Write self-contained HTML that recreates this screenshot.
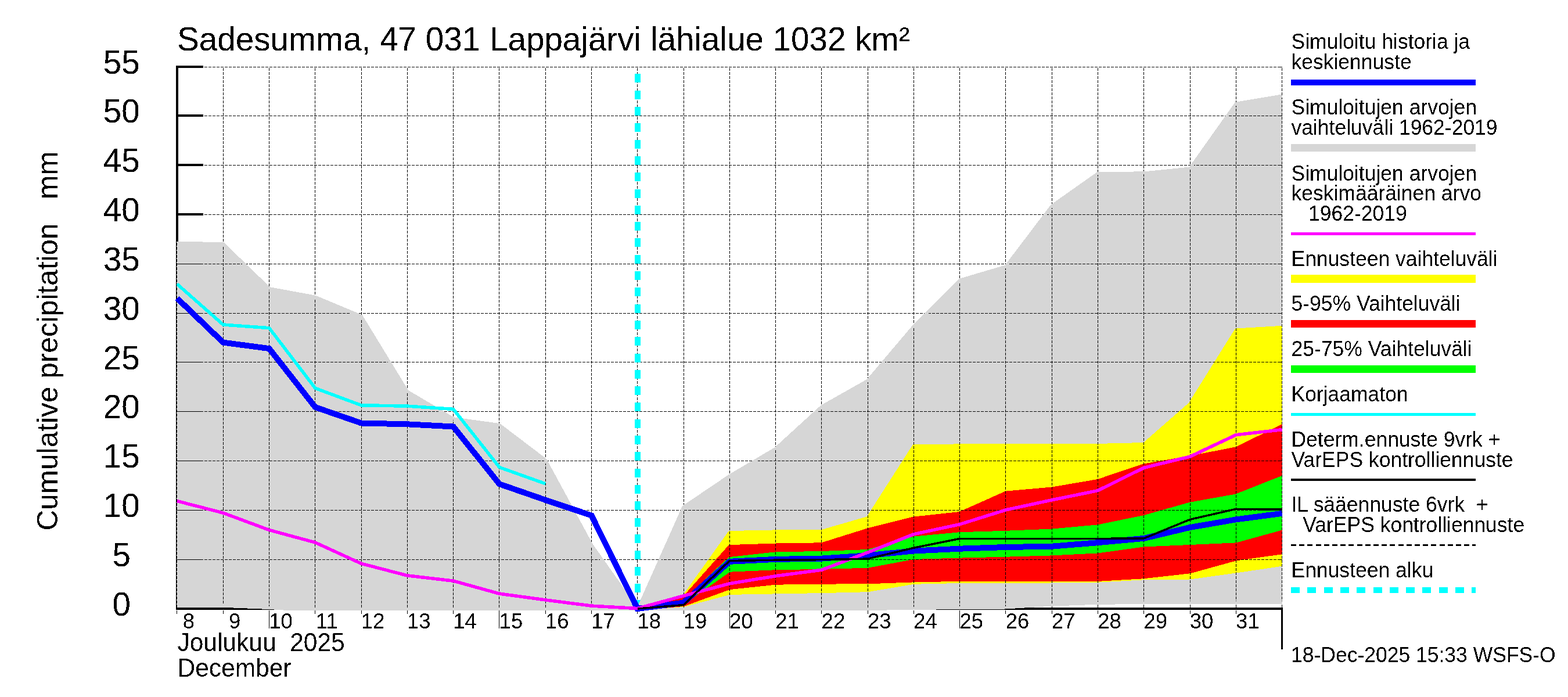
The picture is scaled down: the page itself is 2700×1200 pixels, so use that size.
<!DOCTYPE html>
<html lang="fi"><head><meta charset="utf-8"><title>Sadesumma, 47 031 Lappajärvi lähialue</title>
<style>
html,body{margin:0;padding:0;background:#fff;}
body{width:2700px;height:1200px;overflow:hidden;}
svg{display:block;position:absolute;left:0;top:0;}
text{font-family:"Liberation Sans",sans-serif;fill:#000;}
.t56{font-size:56.6px}.t42{font-size:42.5px}.t35{font-size:36.5px}.tl{font-size:35.5px}
</style></head><body>
<svg width="2700" height="1200" viewBox="0 0 2700 1200">
<defs><filter id="bin" x="0" y="0" width="2700" height="1200" filterUnits="userSpaceOnUse" color-interpolation-filters="sRGB"><feComponentTransfer><feFuncA type="discrete" tableValues="0 1"/></feComponentTransfer></filter></defs>
<rect width="2700" height="1200" fill="#fff"/>
<g shape-rendering="crispEdges">
<rect x="303" y="113" width="4" height="937" fill="#000"/>
<rect x="303" y="1046" width="1906" height="4" fill="#000"/>
<rect x="303" y="961" width="47" height="4" fill="#000"/>
<rect x="303" y="876" width="47" height="4" fill="#000"/>
<rect x="303" y="791" width="47" height="4" fill="#000"/>
<rect x="303" y="706" width="47" height="4" fill="#000"/>
<rect x="303" y="621" width="47" height="4" fill="#000"/>
<rect x="303" y="537" width="47" height="4" fill="#000"/>
<rect x="303" y="452" width="47" height="4" fill="#000"/>
<rect x="303" y="367" width="47" height="4" fill="#000"/>
<rect x="303" y="282" width="47" height="4" fill="#000"/>
<rect x="303" y="197" width="47" height="4" fill="#000"/>
<rect x="303" y="113" width="47" height="4" fill="#000"/>
<rect x="2206" y="1046" width="3" height="72" fill="#000"/>
</g>
<clipPath id="plotclip"><rect x="304" y="100" width="1904" height="951"/></clipPath>
<g shape-rendering="crispEdges" clip-path="url(#plotclip)">
<polygon fill="#d6d6d6" stroke="#d6d6d6" stroke-width="5.0" stroke-linejoin="miter" points="304.9,418.4 384.2,419.5 463.5,496.5 542.8,511.1 622.1,544.2 701.3,673.8 780.6,720.7 859.9,731.5 939.2,791.8 1018.5,938.0 1097.8,1050.3 1177.0,872.8 1256.3,819.2 1335.6,772.3 1414.9,699.9 1494.2,655.1 1573.4,561.7 1652.7,482.2 1732.0,458.8 1811.3,354.3 1890.5,298.4 1969.8,297.9 2049.1,290.0 2128.4,178.1 2207.7,165.0 2207.7,1037.2 2128.4,1037.5 2049.1,1037.5 1969.8,1037.7 1890.5,1038.2 1811.3,1041.1 1732.0,1046.0 1652.7,1046.7 1573.4,1047.3 1494.2,1048.5 1414.9,1048.5 1335.6,1048.5 1256.3,1048.5 1177.0,1048.5 1097.8,1050.3 1018.5,1048.5 939.2,1048.5 859.9,1048.5 780.6,1048.5 701.3,1048.5 622.1,1048.5 542.8,1051.3 463.5,1046.5 384.2,1043.3 304.9,1043.1"/>
<polygon fill="#ffff00" stroke="#ffff00" stroke-width="5.0" stroke-linejoin="miter" points="1097.8,1048.5 1177.0,1027.3 1256.3,916.5 1335.6,914.9 1414.9,914.5 1494.2,891.5 1573.4,767.7 1652.7,766.9 1732.0,766.9 1811.3,766.9 1890.5,766.4 1969.8,764.5 2049.1,695.1 2128.4,568.0 2207.7,563.3 2207.7,972.2 2128.4,984.0 2049.1,995.0 1969.8,995.8 1890.5,1000.2 1811.3,1001.0 1732.0,1001.5 1652.7,1001.5 1573.4,1003.3 1494.2,1016.7 1414.9,1018.6 1335.6,1019.9 1256.3,1021.4 1177.0,1042.5 1097.8,1048.5"/>
<polygon fill="#ff0000" stroke="#ff0000" stroke-width="5.0" stroke-linejoin="miter" points="1097.8,1048.5 1177.0,1029.8 1256.3,940.6 1335.6,938.0 1414.9,936.8 1494.2,911.9 1573.4,892.1 1652.7,883.5 1732.0,848.1 1811.3,841.0 1890.5,827.5 1969.8,800.9 2049.1,787.3 2128.4,771.9 2207.7,733.2 2207.7,951.7 2128.4,962.9 2049.1,984.8 1969.8,993.7 1890.5,998.4 1811.3,998.4 1732.0,998.4 1652.7,998.4 1573.4,999.9 1494.2,1002.8 1414.9,1003.1 1335.6,1004.2 1256.3,1012.6 1177.0,1041.5 1097.8,1048.5"/>
<polygon fill="#00ff00" stroke="#00ff00" stroke-width="5.0" stroke-linejoin="miter" points="1097.8,1048.5 1177.0,1035.4 1256.3,961.5 1335.6,952.8 1414.9,951.5 1494.2,948.5 1573.4,926.1 1652.7,918.7 1732.0,916.3 1811.3,913.1 1890.5,905.9 1969.8,889.6 2049.1,867.2 2128.4,853.0 2207.7,821.6 2207.7,910.0 2128.4,931.9 2049.1,935.5 1969.8,938.9 1890.5,949.9 1811.3,953.9 1732.0,956.2 1652.7,958.1 1573.4,960.4 1494.2,975.3 1414.9,977.4 1335.6,978.7 1256.3,982.2 1177.0,1037.5 1097.8,1048.5"/>
</g>
<g shape-rendering="crispEdges" stroke="#000" stroke-width="1" fill="none">
<line x1="304" y1="963.5" x2="350" y2="963.5"/>
<line x1="350" y1="963.5" x2="2208" y2="963.5" stroke-dasharray="5 2" stroke-dashoffset="5"/>
<line x1="2201" y1="963.5" x2="2207" y2="963.5"/>
<line x1="304" y1="878.5" x2="350" y2="878.5"/>
<line x1="350" y1="878.5" x2="2208" y2="878.5" stroke-dasharray="5 2" stroke-dashoffset="5"/>
<line x1="2201" y1="878.5" x2="2207" y2="878.5"/>
<line x1="304" y1="793.5" x2="350" y2="793.5"/>
<line x1="350" y1="793.5" x2="2208" y2="793.5" stroke-dasharray="5 2" stroke-dashoffset="5"/>
<line x1="2201" y1="793.5" x2="2207" y2="793.5"/>
<line x1="304" y1="708.5" x2="350" y2="708.5"/>
<line x1="350" y1="708.5" x2="2208" y2="708.5" stroke-dasharray="5 2" stroke-dashoffset="5"/>
<line x1="2201" y1="708.5" x2="2207" y2="708.5"/>
<line x1="304" y1="623.5" x2="350" y2="623.5"/>
<line x1="350" y1="623.5" x2="2208" y2="623.5" stroke-dasharray="5 2" stroke-dashoffset="5"/>
<line x1="2201" y1="623.5" x2="2207" y2="623.5"/>
<line x1="304" y1="539.5" x2="350" y2="539.5"/>
<line x1="350" y1="539.5" x2="2208" y2="539.5" stroke-dasharray="5 2" stroke-dashoffset="5"/>
<line x1="2201" y1="539.5" x2="2207" y2="539.5"/>
<line x1="304" y1="454.5" x2="350" y2="454.5"/>
<line x1="350" y1="454.5" x2="2208" y2="454.5" stroke-dasharray="5 2" stroke-dashoffset="5"/>
<line x1="2201" y1="454.5" x2="2207" y2="454.5"/>
<line x1="304" y1="369.5" x2="350" y2="369.5"/>
<line x1="350" y1="369.5" x2="2208" y2="369.5" stroke-dasharray="5 2" stroke-dashoffset="5"/>
<line x1="2201" y1="369.5" x2="2207" y2="369.5"/>
<line x1="304" y1="284.5" x2="350" y2="284.5"/>
<line x1="350" y1="284.5" x2="2208" y2="284.5" stroke-dasharray="5 2" stroke-dashoffset="5"/>
<line x1="2201" y1="284.5" x2="2207" y2="284.5"/>
<line x1="304" y1="199.5" x2="350" y2="199.5"/>
<line x1="350" y1="199.5" x2="2208" y2="199.5" stroke-dasharray="5 2" stroke-dashoffset="5"/>
<line x1="2201" y1="199.5" x2="2207" y2="199.5"/>
<line x1="304" y1="115.5" x2="350" y2="115.5"/>
<line x1="350" y1="115.5" x2="2208" y2="115.5" stroke-dasharray="5 2" stroke-dashoffset="5"/>
<line x1="2201" y1="115.5" x2="2207" y2="115.5"/>
<line x1="304.5" y1="115" x2="304.5" y2="1046" stroke-dasharray="5 2" stroke-dashoffset="5"/>
<line x1="384.5" y1="115" x2="384.5" y2="1046" stroke-dasharray="5 2" stroke-dashoffset="5"/>
<line x1="463.5" y1="115" x2="463.5" y2="1046" stroke-dasharray="5 2" stroke-dashoffset="5"/>
<line x1="542.5" y1="115" x2="542.5" y2="1046" stroke-dasharray="5 2" stroke-dashoffset="5"/>
<line x1="622.5" y1="115" x2="622.5" y2="1046" stroke-dasharray="5 2" stroke-dashoffset="5"/>
<line x1="701.5" y1="115" x2="701.5" y2="1046" stroke-dasharray="5 2" stroke-dashoffset="5"/>
<line x1="780.5" y1="115" x2="780.5" y2="1046" stroke-dasharray="5 2" stroke-dashoffset="5"/>
<line x1="859.5" y1="115" x2="859.5" y2="1046" stroke-dasharray="5 2" stroke-dashoffset="5"/>
<line x1="939.5" y1="115" x2="939.5" y2="1046" stroke-dasharray="5 2" stroke-dashoffset="5"/>
<line x1="1018.5" y1="115" x2="1018.5" y2="1046" stroke-dasharray="5 2" stroke-dashoffset="5"/>
<line x1="1097.5" y1="115" x2="1097.5" y2="1046" stroke-dasharray="5 2" stroke-dashoffset="5"/>
<line x1="1177.5" y1="115" x2="1177.5" y2="1046" stroke-dasharray="5 2" stroke-dashoffset="5"/>
<line x1="1256.5" y1="115" x2="1256.5" y2="1046" stroke-dasharray="5 2" stroke-dashoffset="5"/>
<line x1="1335.5" y1="115" x2="1335.5" y2="1046" stroke-dasharray="5 2" stroke-dashoffset="5"/>
<line x1="1414.5" y1="115" x2="1414.5" y2="1046" stroke-dasharray="5 2" stroke-dashoffset="5"/>
<line x1="1494.5" y1="115" x2="1494.5" y2="1046" stroke-dasharray="5 2" stroke-dashoffset="5"/>
<line x1="1573.5" y1="115" x2="1573.5" y2="1046" stroke-dasharray="5 2" stroke-dashoffset="5"/>
<line x1="1652.5" y1="115" x2="1652.5" y2="1046" stroke-dasharray="5 2" stroke-dashoffset="5"/>
<line x1="1731.5" y1="115" x2="1731.5" y2="1046" stroke-dasharray="5 2" stroke-dashoffset="5"/>
<line x1="1811.5" y1="115" x2="1811.5" y2="1046" stroke-dasharray="5 2" stroke-dashoffset="5"/>
<line x1="1890.5" y1="115" x2="1890.5" y2="1046" stroke-dasharray="5 2" stroke-dashoffset="5"/>
<line x1="1969.5" y1="115" x2="1969.5" y2="1046" stroke-dasharray="5 2" stroke-dashoffset="5"/>
<line x1="2049.5" y1="115" x2="2049.5" y2="1046" stroke-dasharray="5 2" stroke-dashoffset="5"/>
<line x1="2128.5" y1="115" x2="2128.5" y2="1046" stroke-dasharray="5 2" stroke-dashoffset="5"/>
<line x1="2207.5" y1="115" x2="2207.5" y2="1046" stroke-dasharray="5 2" stroke-dashoffset="5"/>
<line x1="304.5" y1="1051" x2="304.5" y2="1057.0"/>
<line x1="384.5" y1="1051" x2="384.5" y2="1057.0"/>
<line x1="463.5" y1="1051" x2="463.5" y2="1081.5"/>
<line x1="542.5" y1="1051" x2="542.5" y2="1057.0"/>
<line x1="622.5" y1="1051" x2="622.5" y2="1057.0"/>
<line x1="701.5" y1="1051" x2="701.5" y2="1057.0"/>
<line x1="780.5" y1="1051" x2="780.5" y2="1057.0"/>
<line x1="859.5" y1="1051" x2="859.5" y2="1081.5"/>
<line x1="939.5" y1="1051" x2="939.5" y2="1057.0"/>
<line x1="1018.5" y1="1051" x2="1018.5" y2="1057.0"/>
<line x1="1097.5" y1="1051" x2="1097.5" y2="1057.0"/>
<line x1="1177.5" y1="1051" x2="1177.5" y2="1057.0"/>
<line x1="1256.5" y1="1051" x2="1256.5" y2="1081.5"/>
<line x1="1335.5" y1="1051" x2="1335.5" y2="1057.0"/>
<line x1="1414.5" y1="1051" x2="1414.5" y2="1057.0"/>
<line x1="1494.5" y1="1051" x2="1494.5" y2="1057.0"/>
<line x1="1573.5" y1="1051" x2="1573.5" y2="1057.0"/>
<line x1="1652.5" y1="1051" x2="1652.5" y2="1081.5"/>
<line x1="1731.5" y1="1051" x2="1731.5" y2="1057.0"/>
<line x1="1811.5" y1="1051" x2="1811.5" y2="1057.0"/>
<line x1="1890.5" y1="1051" x2="1890.5" y2="1057.0"/>
<line x1="1969.5" y1="1051" x2="1969.5" y2="1057.0"/>
<line x1="2049.5" y1="1051" x2="2049.5" y2="1057.0"/>
<line x1="2128.5" y1="1051" x2="2128.5" y2="1057.0"/>
</g>
<g shape-rendering="crispEdges">
<line x1="1098" y1="1048" x2="1098" y2="115" stroke="#00ffff" stroke-width="10" stroke-dasharray="15 13.3"/>
</g>
<g shape-rendering="crispEdges" clip-path="url(#plotclip)">
<polyline fill="none" stroke="#d6d6d6" stroke-width="5.0" stroke-linejoin="miter"  points="304.9,418.4 384.2,419.5 463.5,496.5 542.8,511.1 622.1,544.2 701.3,673.8 780.6,720.7 859.9,731.5 939.2,791.8 1018.5,938.0 1097.8,1050.3 1177.0,872.8 1256.3,819.2 1335.6,772.3 1414.9,699.9 1494.2,655.1 1573.4,561.7 1652.7,482.2 1732.0,458.8 1811.3,354.3 1890.5,298.4 1969.8,297.9 2049.1,290.0 2128.4,178.1 2207.7,165.0"/>
<polyline fill="none" stroke="#d6d6d6" stroke-width="5.0" stroke-linejoin="miter"  points="304.9,1043.1 384.2,1043.3 463.5,1046.5 542.8,1051.3 622.1,1048.5 701.3,1048.5 780.6,1048.5 859.9,1048.5 939.2,1048.5 1018.5,1048.5 1097.8,1050.3 1177.0,1048.5 1256.3,1048.5 1335.6,1048.5 1414.9,1048.5 1494.2,1048.5 1573.4,1047.3 1652.7,1046.7 1732.0,1046.0 1811.3,1041.1 1890.5,1038.2 1969.8,1037.7 2049.1,1037.5 2128.4,1037.5 2207.7,1037.2"/>
</g>
<g shape-rendering="crispEdges">
<polyline fill="none" stroke="#00ffff" stroke-width="5.6" stroke-linejoin="miter"  points="304.9,489.0 384.2,559.0 463.5,564.7 542.8,668.3 622.1,697.8 701.3,699.1 780.6,704.4 859.9,804.5 939.2,832.8"/>
<polyline fill="none" stroke="#0000ff" stroke-width="10" stroke-linejoin="miter"  points="304.9,513.4 384.2,589.6 463.5,600.1 542.8,701.0 622.1,728.5 701.3,730.3 780.6,734.5 859.9,833.3 939.2,860.8 1018.5,887.5 1097.8,1048.0 1177.0,1037.6 1256.3,966.8 1335.6,962.9 1414.9,961.6 1494.2,956.3 1573.4,948.5 1652.7,944.7 1732.0,942.0 1811.3,940.7 1890.5,934.2 1969.8,926.9 2049.1,908.0 2128.4,894.4 2207.7,883.9"/>
<polyline fill="none" stroke="#ff00ff" stroke-width="5.6" stroke-linejoin="miter"  points="304.9,862.6 384.2,883.1 463.5,912.5 542.8,934.0 622.1,970.3 701.3,990.9 780.6,1000.1 859.9,1022.1 939.2,1032.9 1018.5,1043.1 1097.8,1047.5 1177.0,1025.8 1256.3,1004.8 1335.6,991.7 1414.9,981.2 1494.2,951.1 1573.4,919.7 1652.7,902.7 1732.0,877.9 1811.3,860.8 1890.5,844.6 1969.8,805.3 2049.1,786.1 2128.4,748.7 2207.7,739.7"/>
<polyline fill="none" stroke="#000000" stroke-width="3.5" stroke-linejoin="miter"  points="1097.8,1048.0 1177.0,1041.5 1256.3,965.5 1335.6,964.2 1414.9,963.7 1494.2,962.1 1573.4,943.2 1652.7,927.4 1732.0,927.4 1811.3,927.4 1890.5,927.4 1969.8,926.9 2049.1,894.4 2128.4,876.3 2207.7,877.2"/>
</g>
<g filter="url(#bin)">
<text class="t56" xml:space="preserve" transform="translate(305,87) scale(1,1.022)">Sadesumma, 47 031 Lappajärvi lähialue 1032 km²</text>
<text class="t56" text-anchor="middle" xml:space="preserve" transform="translate(209.2,1059.6) scale(1,1.022)">0</text>
<text class="t56" text-anchor="middle" xml:space="preserve" transform="translate(209.2,974.8) scale(1,1.022)">5</text>
<text class="t56" text-anchor="middle" xml:space="preserve" transform="translate(209.2,890.0) scale(1,1.022)">10</text>
<text class="t56" text-anchor="middle" xml:space="preserve" transform="translate(209.2,805.1) scale(1,1.022)">15</text>
<text class="t56" text-anchor="middle" xml:space="preserve" transform="translate(209.2,720.3) scale(1,1.022)">20</text>
<text class="t56" text-anchor="middle" xml:space="preserve" transform="translate(209.2,635.5) scale(1,1.022)">25</text>
<text class="t56" text-anchor="middle" xml:space="preserve" transform="translate(209.2,550.7) scale(1,1.022)">30</text>
<text class="t56" text-anchor="middle" xml:space="preserve" transform="translate(209.2,465.9) scale(1,1.022)">35</text>
<text class="t56" text-anchor="middle" xml:space="preserve" transform="translate(209.2,381.1) scale(1,1.022)">40</text>
<text class="t56" text-anchor="middle" xml:space="preserve" transform="translate(209.2,296.2) scale(1,1.022)">45</text>
<text class="t56" text-anchor="middle" xml:space="preserve" transform="translate(209.2,211.4) scale(1,1.022)">50</text>
<text class="t56" text-anchor="middle" xml:space="preserve" transform="translate(209.2,126.6) scale(1,1.022)">55</text>
<text style="font-size:49.6px" xml:space="preserve" transform="translate(99,913.5) rotate(-90) scale(1,1.022)">Cumulative precipitation   mm</text>
<text class="t35" text-anchor="middle" xml:space="preserve" transform="translate(324.9,1081.7) scale(1,1.022)">8</text>
<text class="t35" text-anchor="middle" xml:space="preserve" transform="translate(404.2,1081.7) scale(1,1.022)">9</text>
<text class="t35" text-anchor="middle" xml:space="preserve" transform="translate(483.5,1081.7) scale(1,1.022)">10</text>
<text class="t35" text-anchor="middle" xml:space="preserve" transform="translate(562.8,1081.7) scale(1,1.022)">11</text>
<text class="t35" text-anchor="middle" xml:space="preserve" transform="translate(642.1,1081.7) scale(1,1.022)">12</text>
<text class="t35" text-anchor="middle" xml:space="preserve" transform="translate(721.3,1081.7) scale(1,1.022)">13</text>
<text class="t35" text-anchor="middle" xml:space="preserve" transform="translate(800.6,1081.7) scale(1,1.022)">14</text>
<text class="t35" text-anchor="middle" xml:space="preserve" transform="translate(879.9,1081.7) scale(1,1.022)">15</text>
<text class="t35" text-anchor="middle" xml:space="preserve" transform="translate(959.2,1081.7) scale(1,1.022)">16</text>
<text class="t35" text-anchor="middle" xml:space="preserve" transform="translate(1038.5,1081.7) scale(1,1.022)">17</text>
<text class="t35" text-anchor="middle" xml:space="preserve" transform="translate(1117.8,1081.7) scale(1,1.022)">18</text>
<text class="t35" text-anchor="middle" xml:space="preserve" transform="translate(1197.0,1081.7) scale(1,1.022)">19</text>
<text class="t35" text-anchor="middle" xml:space="preserve" transform="translate(1276.3,1081.7) scale(1,1.022)">20</text>
<text class="t35" text-anchor="middle" xml:space="preserve" transform="translate(1355.6,1081.7) scale(1,1.022)">21</text>
<text class="t35" text-anchor="middle" xml:space="preserve" transform="translate(1434.9,1081.7) scale(1,1.022)">22</text>
<text class="t35" text-anchor="middle" xml:space="preserve" transform="translate(1514.2,1081.7) scale(1,1.022)">23</text>
<text class="t35" text-anchor="middle" xml:space="preserve" transform="translate(1593.4,1081.7) scale(1,1.022)">24</text>
<text class="t35" text-anchor="middle" xml:space="preserve" transform="translate(1672.7,1081.7) scale(1,1.022)">25</text>
<text class="t35" text-anchor="middle" xml:space="preserve" transform="translate(1752.0,1081.7) scale(1,1.022)">26</text>
<text class="t35" text-anchor="middle" xml:space="preserve" transform="translate(1831.3,1081.7) scale(1,1.022)">27</text>
<text class="t35" text-anchor="middle" xml:space="preserve" transform="translate(1910.5,1081.7) scale(1,1.022)">28</text>
<text class="t35" text-anchor="middle" xml:space="preserve" transform="translate(1989.8,1081.7) scale(1,1.022)">29</text>
<text class="t35" text-anchor="middle" xml:space="preserve" transform="translate(2069.1,1081.7) scale(1,1.022)">30</text>
<text class="t35" text-anchor="middle" xml:space="preserve" transform="translate(2148.4,1081.7) scale(1,1.022)">31</text>
<text class="t42" xml:space="preserve" transform="translate(305.5,1120.9) scale(1,1.06)">Joulukuu  2025</text>
<text class="t42" xml:space="preserve" transform="translate(305.5,1165) scale(1,1.06)">December</text>
<text class="tl" xml:space="preserve" transform="translate(2223,1140) scale(1,1.022)">18-Dec-2025 15:33 WSFS-O</text>
<text class="tl" xml:space="preserve" transform="translate(2223.5,84.3) scale(1,1.022)">Simuloitu historia ja</text>
<text class="tl" xml:space="preserve" transform="translate(2223.5,119.2) scale(1,1.022)">keskiennuste</text>
<text class="tl" xml:space="preserve" transform="translate(2223.5,196.8) scale(1,1.022)">Simuloitujen arvojen</text>
<text class="tl" xml:space="preserve" transform="translate(2223.5,232.2) scale(1,1.022)">vaihteluväli 1962-2019</text>
<text class="tl" xml:space="preserve" transform="translate(2223.5,310.5) scale(1,1.022)">Simuloitujen arvojen</text>
<text class="tl" xml:space="preserve" transform="translate(2223.5,345) scale(1,1.022)">keskimääräinen arvo</text>
<text class="tl" xml:space="preserve" transform="translate(2223.5,380.3) scale(1,1.022)">   1962-2019</text>
<text class="tl" xml:space="preserve" transform="translate(2223.5,458) scale(1,1.022)">Ennusteen vaihteluväli</text>
<text class="tl" xml:space="preserve" transform="translate(2223.5,535.3) scale(1,1.022)">5-95% Vaihteluväli</text>
<text class="tl" xml:space="preserve" transform="translate(2223.5,613.3) scale(1,1.022)">25-75% Vaihteluväli</text>
<text class="tl" xml:space="preserve" transform="translate(2223.5,691) scale(1,1.022)">Korjaamaton</text>
<text class="tl" xml:space="preserve" transform="translate(2223.5,769.1) scale(1,1.022)">Determ.ennuste 9vrk +</text>
<text class="tl" xml:space="preserve" transform="translate(2223.5,804) scale(1,1.022)">VarEPS kontrolliennuste</text>
<text class="tl" xml:space="preserve" transform="translate(2223.5,881) scale(1,1.022)">IL sääennuste 6vrk  +</text>
<text class="tl" xml:space="preserve" transform="translate(2223.5,916.3) scale(1,1.022)">  VarEPS kontrolliennuste</text>
<text class="tl" xml:space="preserve" transform="translate(2223.5,994) scale(1,1.022)">Ennusteen alku</text>
</g>
<g shape-rendering="crispEdges">
<rect x="2223" y="137" width="318" height="10" fill="#0000ff"/>
<rect x="2223" y="248" width="318" height="13" fill="#d6d6d6"/>
<rect x="2223" y="400" width="318" height="5" fill="#ff00ff"/>
<rect x="2223" y="473" width="318" height="14" fill="#ffff00"/>
<rect x="2223" y="551" width="318" height="13" fill="#ff0000"/>
<rect x="2223" y="629" width="318" height="13" fill="#00ff00"/>
<rect x="2223" y="711" width="318" height="5" fill="#00ffff"/>
<rect x="2223" y="824" width="318" height="4" fill="#000000"/>
<line x1="2223" y1="938.5" x2="2541" y2="938.5" stroke="#000" stroke-width="3" stroke-dasharray="9 5.2"/>
<line x1="2223" y1="1016" x2="2541" y2="1016" stroke="#00ffff" stroke-width="10" stroke-dasharray="15 13.3"/>
</g>
</svg></body></html>
